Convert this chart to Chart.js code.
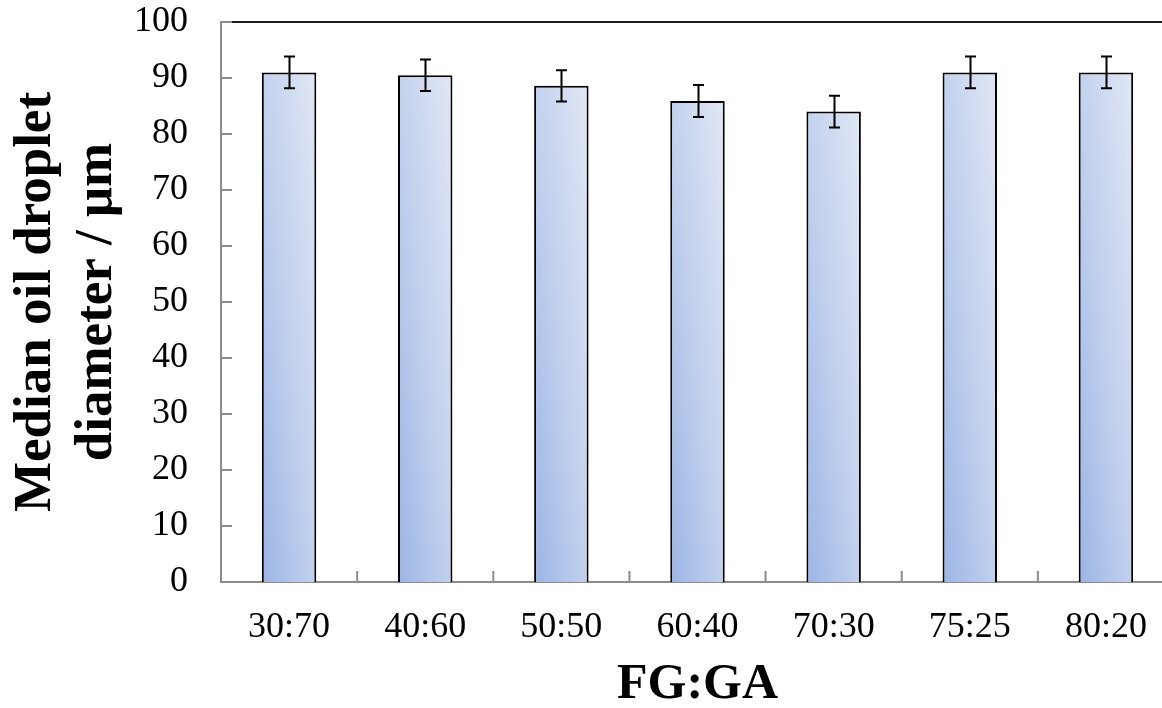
<!DOCTYPE html>
<html><head><meta charset="utf-8">
<script src="https://cdn.jsdelivr.net/npm/chart.js@4.4.0/dist/chart.umd.min.js"></script>
<style>html,body{margin:0;padding:0;overflow:hidden;background:#fff;width:1162px;height:708px}canvas{display:block}</style>
</head><body>
<canvas id="c" width="1180" height="708"></canvas>
<script>
const categories = ['30:70', '40:60', '50:50', '60:40', '70:30', '75:25', '80:20'];
const medianDiameter = [91.0, 90.5, 88.6, 85.9, 84.0, 91.0, 91.0];
const errorValues = [2.85, 2.8, 2.8, 2.85, 2.85, 2.85, 2.85];
const yMin = 0, yMax = 100, yStep = 10;
const xTitle = 'FG:GA';
const yTitle = ['Median oil droplet', 'diameter / μm'];

const BAR_PCT = 0.4;
const AXIS_GRAY = '#8c8c8c';
const FONT = '"Liberation Serif", "Times New Roman", serif';

function barFill(ctx) {
  const chart = ctx.chart;
  const xs = chart.scales.x, ys = chart.scales.y;
  if (!chart.chartArea || !xs || !ys || ctx.dataIndex === undefined) return '#c4d2ee';
  const i = ctx.dataIndex;
  const v = ctx.dataset.data[i];
  const xc = xs.getPixelForValue(i);
  const w = (xs.width / categories.length) * BAR_PCT;
  const left = xc - w / 2;
  const top = ys.getPixelForValue(v);
  const bottom = ys.getPixelForValue(0);
  const h = Math.max(1, bottom - top);
  if (!isFinite(left) || !isFinite(top)) return '#c4d2ee';
  const gx = 1 / (2 * w), gy = -1 / (2 * h);
  const g2 = gx * gx + gy * gy;
  const grad = chart.ctx.createLinearGradient(left, bottom, left + gx / g2, bottom + gy / g2);
  grad.addColorStop(0, '#9bb5e5');
  grad.addColorStop(0.5, '#c3d1ee');
  grad.addColorStop(1, '#e1e7f5');
  return grad;
}

const decor = {
  id: 'decor',
  afterDatasetsDraw(chart) {
    const {ctx} = chart;
    const xs = chart.scales.x, ys = chart.scales.y;
    ctx.save();
    ctx.strokeStyle = '#000';
    ctx.lineWidth = 2;
    medianDiameter.forEach((v, i) => {
      const e = errorValues[i];
      const x = Math.round(xs.getPixelForValue(i)) + 0.5;
      const y1 = ys.getPixelForValue(v + e), y2 = ys.getPixelForValue(v - e);
      ctx.beginPath();
      ctx.moveTo(x, y1); ctx.lineTo(x, y2);
      ctx.moveTo(x - 5.5, y1); ctx.lineTo(x + 5.5, y1);
      ctx.moveTo(x - 5.5, y2); ctx.lineTo(x + 5.5, y2);
      ctx.stroke();
    });
    ctx.restore();
  },
  afterDraw(chart) {
    const {ctx, chartArea} = chart;
    const xs = chart.scales.x, ys = chart.scales.y;
    ctx.save();
    ctx.strokeStyle = AXIS_GRAY;
    ctx.lineWidth = 2;
    ctx.beginPath();
    ys.ticks.forEach(t => {
      const y = ys.getPixelForValue(t.value);
      ctx.moveTo(chartArea.left, y); ctx.lineTo(chartArea.left + 11, y);
    });
    for (let i = 1; i <= categories.length; i++) {
      const x = xs.getPixelForValue(i - 0.5);
      ctx.moveTo(x, chartArea.bottom); ctx.lineTo(x, chartArea.bottom - 11);
    }
    ctx.stroke();
    ctx.strokeStyle = '#1a1a1a';
    ctx.beginPath();
    ctx.moveTo(chartArea.left + 11, chartArea.top);
    ctx.lineTo(chartArea.right, chartArea.top);
    ctx.stroke();
    ctx.restore();
  }
};

new Chart(document.getElementById('c'), {
  type: 'bar',
  data: {
    labels: categories,
    datasets: [{
      data: medianDiameter,
      backgroundColor: barFill,
      borderColor: '#000',
      borderWidth: 2,
      barPercentage: BAR_PCT,
      categoryPercentage: 1
    }]
  },
  plugins: [decor],
  options: {
    responsive: false,
    animation: false,
    devicePixelRatio: 1,
    layout: {padding: {top: 22, right: 6, left: 0, bottom: 0}},
    plugins: {legend: {display: false}, tooltip: {enabled: false}},
    scales: {
      x: {
        z: 1,
        grid: {display: false, drawTicks: false},
        border: {display: true, color: AXIS_GRAY, width: 2},
        ticks: {color: '#000', font: {family: FONT, size: 36}, padding: 24, maxRotation: 0, autoSkip: false},
        title: {display: true, text: xTitle, color: '#000', font: {family: FONT, size: 50, weight: 'bold', lineHeight: 0.9}, padding: {top: 0, bottom: 0}},
        afterFit: s => { s.height = 126; s.paddingLeft = 0; s.paddingRight = 0; }
      },
      y: {
        z: 1,
        min: yMin, max: yMax,
        grid: {display: false, drawTicks: false},
        border: {display: true, color: AXIS_GRAY, width: 2},
        ticks: {stepSize: yStep, color: '#000', font: {family: FONT, size: 36}, padding: 33},
        title: {display: true, text: yTitle, color: '#000', font: {family: FONT, size: 53, weight: 'bold', lineHeight: 1.15}, padding: {top: 5.5, bottom: 0}},
        afterFit: s => { s.width = 221; s.paddingTop = 0; s.paddingBottom = 0; }
      }
    }
  }
});
</script>
</body></html>
